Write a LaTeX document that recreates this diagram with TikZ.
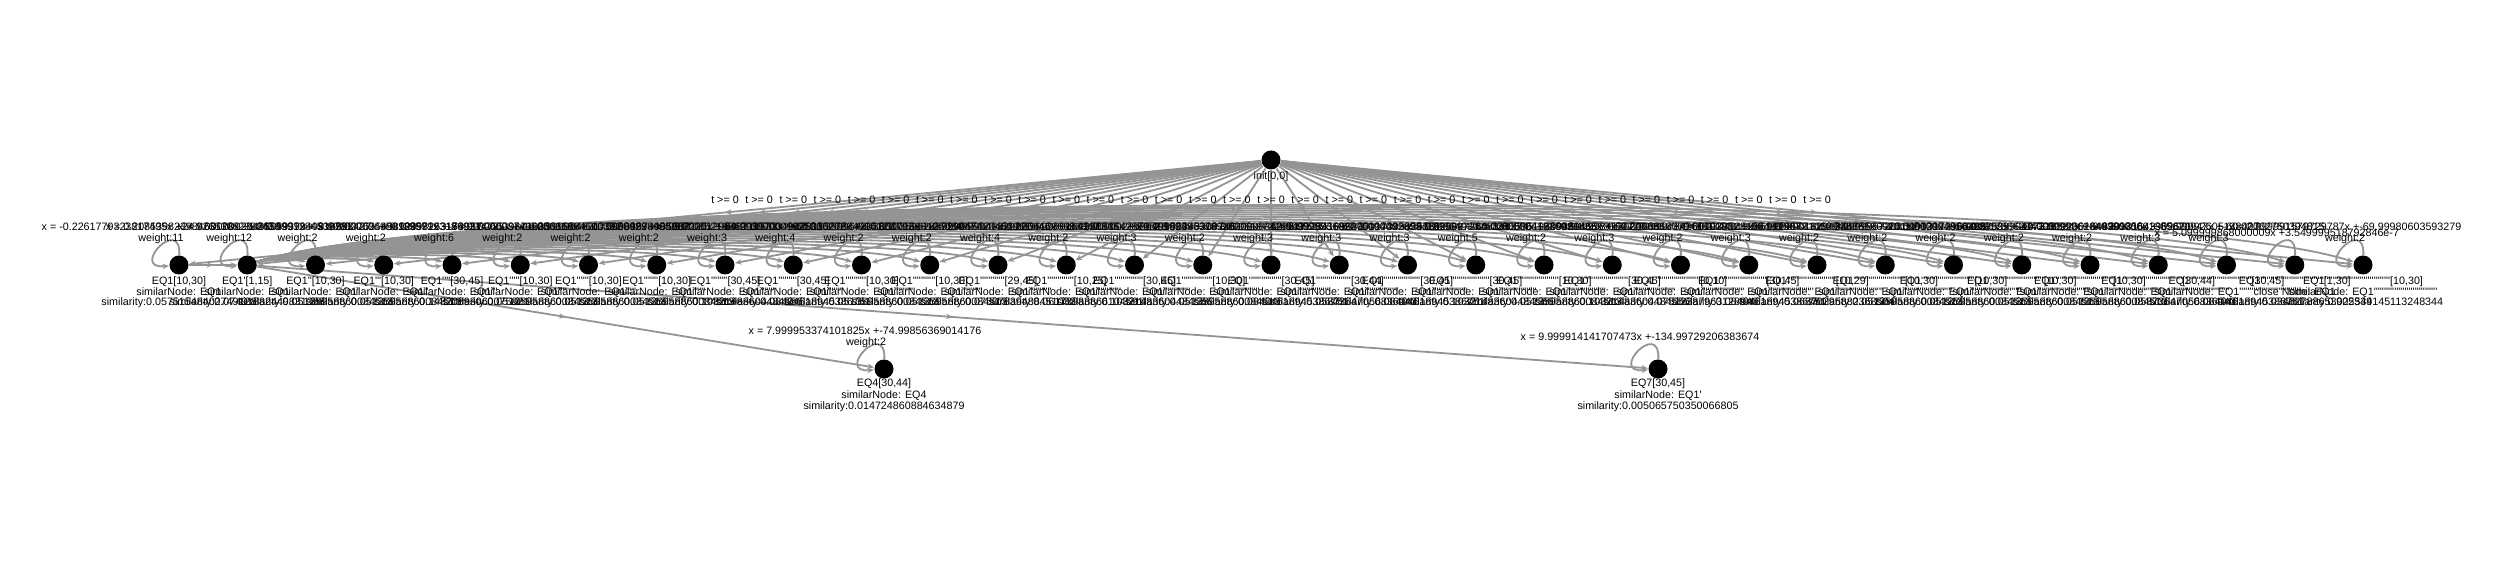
\documentclass[tikz,border=0pt]{standalone}
\usepackage{fontspec}
\newfontfamily\lab{Liberation Sans}[Ligatures=TeXOff]
\usetikzlibrary{arrows.meta,decorations.markings}
\pgfdeclarelayer{bg}
\pgfdeclarelayer{paper}
\pgfsetlayers{paper,bg,main}
\definecolor{edgecol}{RGB}{148,148,148}
\newcount\primecnt
\newcommand\qq{'}
\newcommand\prs[1]{\primecnt=#1\relax\loop\ifnum\primecnt>0 \qq\advance\primecnt by -1\repeat}
\tikzset{
 vnode/.style={circle,fill=black,draw=none,minimum size=0.19cm,inner sep=0pt},
 lbl/.style={font=\lab\fontsize{3.05pt}{3.7pt}\selectfont,inner sep=0pt,anchor=base,text=black},
 vtip/.style={-{Stealth[length=0.065cm,width=0.055cm]}},
 edgeln/.style={draw=edgecol,color=edgecol,line width=0.018cm,vtip,postaction={decorate},
   decoration={markings,mark=at position 0.5 with {\arrow{Stealth[length=0.065cm,width=0.055cm]}}}},
 loopln/.style={draw=edgecol,color=edgecol,line width=0.018cm,vtip},
}
% #1 idx, #2 weight, #3 interval, #4 line2, #5 similarity, #6 formula
\newcommand\mkrow[6]{%
 \node[vnode] (n#1) at ({179+68.25*#1},265) {};
 \node[lbl] (a#1) at ({179+68.25*#1},284.5) {EQ1\prs{#1}#3};
 \node[lbl] (b#1) at ({179+68.25*#1},295.5) {#4};
 \node[lbl] (c#1) at ({179+68.25*#1},306) {similarity:#5};
 \ifx\relax#2\relax
   \node[lbl] (f#1) at ({161+68.25*#1},237) {#6};
 \else
   \node[lbl] (f#1) at ({161+68.25*#1},230.5) {#6};
   \node[lbl] (w#1) at ({161+68.25*#1},241.5) {weight:#2};
 \fi
 \begin{pgfonlayer}{bg}\draw[loopln] (n#1) to[out=88,in=185,min distance=0.4cm] (n#1);\end{pgfonlayer}
}
\begin{document}
\begin{tikzpicture}[x=0.01cm,y=-0.01cm]
\useasboundingbox (0,0) rectangle (2500,562);
\begin{pgfonlayer}{paper}
\fill[white] (0,0) rectangle (2500,562);
\end{pgfonlayer}
\node[vnode] (root) at (1271,160) {};
\node[lbl] (rootlbl) at (1271,179.5) {init[0,0]};
\mkrow{0}{11}{[10,30]}{similarNode: EQ1}{0.05751548402749128}{x = -0.2261779323817495x +24.92653982398430}
\mkrow{1}{12}{[1,15]}{similarNode: EQ1}{0.07491882449831398}{x = 0.20853982398463128x +1.2654991284539781}
\mkrow{2}{2}{[10,30]}{similarNode: EQ1\prs{1}}{0.05135958860084513}{x = 1.0000092843505937x +-9.999837625493124}
\mkrow{3}{2}{[10,30]}{similarNode: EQ1\prs{2}}{0.05135958860084513}{x = 0.9999940318993427x +-9.99998263174937}
\mkrow{4}{6}{[30,45]}{similarNode: EQ1\prs{3}}{0.14820893060075821}{x = 3.000084950183571x +-59.99826539871033}
\mkrow{5}{2}{[10,30]}{similarNode: EQ1\prs{4}}{0.05135958860084513}{x = 0.9999931869314785x +-10.00015884500392}
\mkrow{6}{2}{[10,30]}{similarNode: EQ1\prs{5}}{0.05135958860084513}{x = 1.0000037499256318x +-10.00003674985902}
\mkrow{7}{2}{[10,30]}{similarNode: EQ1\prs{6}}{0.05135958860084513}{x = 0.9999848217593842x +-9.999708521986203}
\mkrow{8}{3}{[30,45]}{similarNode: EQ1\prs{7}}{0.10321483604484556}{x = 2.999998405837225x +-59.99997034902811}
\mkrow{9}{4}{[30,45]}{similarNode: EQ1\prs{8}}{0.08404618945386751}{x = 3.0000129648710533x +-60.00027834996127}
\mkrow{10}{2}{[10,30]}{similarNode: EQ1\prs{9}}{0.05135958860084513}{x = 1.0000009925336202x +-10.00001698125034}
\mkrow{11}{2}{[10,30]}{similarNode: EQ1\prs{10}}{0.05135958860084513}{x = 0.9999964303851793x +-9.999955320481961}
\mkrow{12}{4}{[29,45]}{similarNode: EQ1\prs{11}}{0.07507839488451032}{x = 3.1035962887290474x +-60.00041236983347}
\mkrow{13}{2}{[10,25]}{similarNode: EQ1\prs{12}}{0.06173983866104591}{x = 1.4999940329126946x +-9.999893642870513}
\mkrow{14}{3}{[30,45]}{similarNode: EQ1\prs{13}}{0.10321483604484556}{x = 2.9999980164231845x +-59.99996348209746}
\mkrow{15}{2}{[10,30]}{similarNode: EQ1\prs{14}}{0.05135958860084513}{x = 1.0000028536491624x +-10.00005187319543}
\mkrow{16}{3}{[30,45]}{similarNode: EQ1\prs{15}}{0.08404618945386751}{x = 2.999996378936208x +-59.99992841096337}
\mkrow{17}{3}{[30,44]}{similarNode: EQ1\prs{16}}{0.05873647056836043}{x = 3.0000083429617526x +-60.00017395826331}
\mkrow{18}{3}{[30,45]}{similarNode: EQ1\prs{17}}{0.08404618945386751}{x = 2.9999936820751944x +-59.99986493025728}
\mkrow{19}{5}{[30,45]}{similarNode: EQ1\prs{18}}{0.10321483604484556}{x = 3.000002893416258x +-60.00005861930946}
\mkrow{20}{2}{[10,30]}{similarNode: EQ1\prs{19}}{0.05135958860084513}{x = 0.9999972648160374x +-9.999946853192776}
\mkrow{21}{3}{[30,45]}{similarNode: EQ1\prs{20}}{0.10321483604484556}{x = 3.0000041536921835x +-60.00008130794361}
\mkrow{22}{2}{[0,10]}{similarNode: EQ1\prs{21}}{0.07512387963128940}{x = 0.9999984130296835x +-0.000039528196483}
\mkrow{23}{3}{[30,45]}{similarNode: EQ1\prs{22}}{0.08404618945386751}{x = 2.9999978426019183x +-59.99995831062941}
\mkrow{24}{2}{[10,29]}{similarNode: EQ1\prs{23}}{0.06870295882368504}{x = 1.0344810386142907x +-10.34478530928152}
\mkrow{25}{2}{[10,30]}{similarNode: EQ1\prs{24}}{0.05135958860084513}{x = 1.0000016294730861x +-10.00003172960485}
\mkrow{26}{2}{[10,30]}{similarNode: EQ1\prs{25}}{0.05135958860084513}{x = 0.9999957283649129x +-9.999917306284395}
\mkrow{27}{2}{[10,30]}{similarNode: EQ1\prs{26}}{0.05135958860084513}{x = 1.000004816293753x +-10.00009230164829}
\mkrow{28}{2}{[10,30]}{similarNode: EQ1\prs{27}}{0.05135958860084513}{x = 0.9999990427316584x +-9.999981643902671}
\mkrow{29}{3}{[30,44]}{similarNode: EQ1\prs{28}}{0.05873647056836043}{x = 2.9999962840391756x +-59.99992605138427}
\mkrow{30}{3}{[30,45]}{similarNode: EQ1\prs{29}}{0.08404618945386751}{x = 3.000001385620947x +-60.00002750394815}
\mkrow{31}{}{[1,30]}{close Node: EQ1}{0.03462788653902534}{x = 5.099999868000009x +3.549999518792846e-7}
\mkrow{32}{2}{[10,30]}{similarNode: EQ1\prs{31}}{0.025349145113248344}{x = 2.999991579729787x +-69.99980603593279}
% second level
\node[vnode] (eq4) at (884,369) {};
\node[lbl] (eq4a) at (884,387) {EQ4[30,44]};
\node[lbl] (eq4b) at (884,398.5) {similarNode: EQ4};
\node[lbl] (eq4c) at (884,409.5) {similarity:0.014724860884634879};
\node[lbl] (eq4f) at (865,335) {x = 7.999953374101825x +-74.99856369014176};
\node[lbl] (eq4w) at (866,346) {weight:2};
\node[vnode] (eq7) at (1658,369) {};
\node[lbl] (eq7a) at (1658,387) {EQ7[30,45]};
\node[lbl] (eq7b) at (1658,398.5) {similarNode: EQ1\qq};
\node[lbl] (eq7c) at (1658,409.5) {similarity:0.005065750350066805};
\node[lbl] (eq7f) at (1640,341) {x = 9.999914141707473x +-134.99729206383674};
% edge labels
\foreach \i in {0,...,32} \node[lbl] (t\i) at ({(1450+68.25*\i)/2},204) {t >= 0};
\begin{pgfonlayer}{bg}
\foreach \i in {0,...,32} \draw[edgeln] (root) -- (n\i);
\foreach \j in {2,...,32} \draw[edgeln] (n1) to[out=18,in=162,looseness=0.3] (n\j);
\draw[edgeln] (n0) -- (n1);
\draw[edgeln] (n1) -- (eq4);
\draw[edgeln] (n1) -- (eq7);
\draw[loopln] (eq4) to[out=88,in=185,min distance=0.4cm] (eq4);
\draw[loopln] (eq7) to[out=88,in=185,min distance=0.4cm] (eq7);
\end{pgfonlayer}
\end{tikzpicture}
\end{document}
